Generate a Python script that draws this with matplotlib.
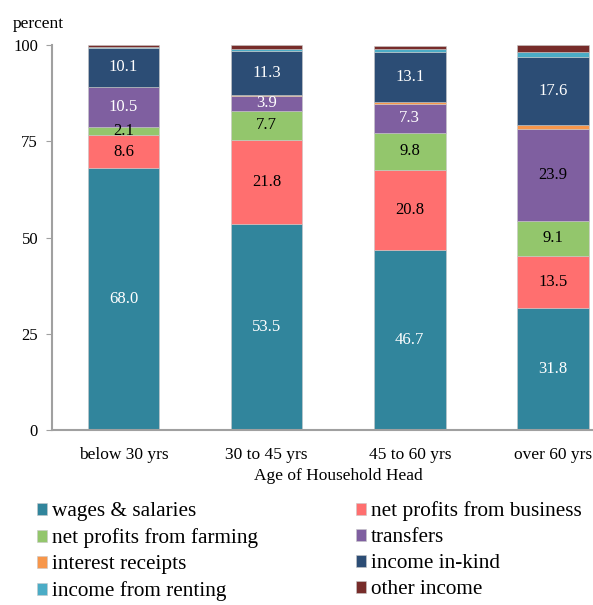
import numpy as np
import matplotlib.pyplot as plt

plt.rcParams['font.family'] = ['Liberation Serif', 'DejaVu Serif']

groups = ["below 30 yrs", "30 to 45 yrs", "45 to 60 yrs", "over 60 yrs"]
wages = [68.0, 53.5, 46.7, 31.8]
business = [8.6, 21.8, 20.8, 13.5]
farming = [2.1, 7.7, 9.8, 9.1]
transfers = [10.5, 3.9, 7.3, 23.9]
interest = [0.05, 0.2, 0.6, 1.0]
inkind = [10.1, 11.3, 13.1, 17.6]
renting = [0.05, 0.5, 0.6, 1.3]
other = [0.6, 1.1, 1.0, 1.8]

series = [
    ("wages & salaries", wages, "#31859C", "white"),
    ("net profits from business", business, "#FF6F6F", "black"),
    ("net profits from farming", farming, "#93C66C", "black"),
    ("transfers", transfers, "#7F5FA0", None),
    ("interest receipts", interest, "#F7964A", None),
    ("income in-kind", inkind, "#2C4D75", "white"),
    ("income from renting", renting, "#4BACC6", None),
    ("other income", other, "#772C2A", None),
]
# transfers label colours differ per bar
transfer_txt = ["white", "white", "white", "black"]

fig = plt.figure(figsize=(5.93, 6.05), dpi=100)
# the plot area runs past the right edge of the picture, as in the original
ax = fig.add_axes([0.0877, 0.289, 0.9654, 0.6364])

x = np.arange(len(groups))
bottom = np.zeros(len(groups))
handles = []
for name, vals, col, tcol in series:
    vals = np.array(vals)
    b = ax.bar(x, vals, 0.5, bottom=bottom, color=col, edgecolor="#C8C8C8",
               linewidth=0.4, label=name)
    handles.append(b)
    if name in ("wages & salaries", "net profits from business",
                "net profits from farming", "transfers", "income in-kind"):
        for i, v in enumerate(vals):
            c = transfer_txt[i] if name == "transfers" else tcol
            ax.text(x[i], bottom[i] + v / 2, f"{v:.1f}", ha="center", va="center",
                    fontsize=12, color=c)
    bottom += vals

ax.set_xlim(-0.5, 3.5)
ax.set_ylim(0, 100)
ax.set_yticks([0, 25, 50, 75, 100])
ax.set_xticks(x)
ax.set_xticklabels(groups, fontsize=12.5)
ax.tick_params(axis="y", labelsize=12, length=4, color="#A0A0A0", pad=6)
ax.tick_params(axis="x", length=0, pad=12)
for s in ["top", "right"]:
    ax.spines[s].set_visible(False)
for s in ["left", "bottom"]:
    ax.spines[s].set_color("#A0A0A0")
    ax.spines[s].set_linewidth(1.5)
ax.set_xlabel("Age of Household Head", fontsize=12.5, labelpad=4)
fig.text(0.022, 0.96, "percent", fontsize=12.5, va="center")

# legend is filled row by row in the reference
order = [0, 2, 4, 6, 1, 3, 5, 7]
fig.legend(handles=[handles[i] for i in order], loc="upper left",
           bbox_to_anchor=(0.0624, 0.171), ncol=2, frameon=False,
           prop={"family": "Liberation Serif", "size": 15.3},
           handlelength=0.47, handleheight=0.47, handletextpad=0.23,
           columnspacing=4.6, labelspacing=0.33, borderpad=0, borderaxespad=0)

fig.savefig("out.png", dpi=100)
